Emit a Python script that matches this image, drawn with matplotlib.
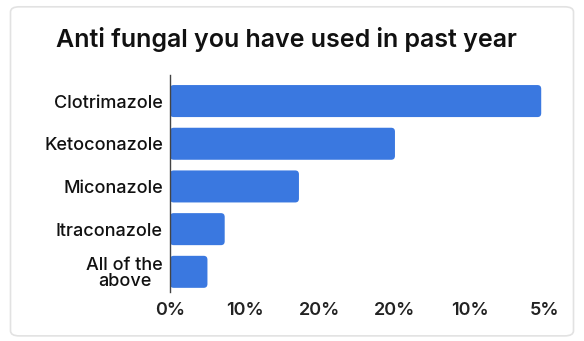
import matplotlib.pyplot as plt
from matplotlib.patches import FancyBboxPatch

plt.rcParams['font.family'] = ['Inter', 'DejaVu Sans']

categories = ['Clotrimazole', 'Ketoconazole', 'Miconazole', 'Itraconazole', 'All of the\nabove']
values = [49.5, 30, 17.2, 7.3, 5]
tick_pos = [0, 10, 20, 30, 40, 50]
tick_labels = ['0%', '10%', '20%', '20%', '10%', '5%']

bar_color = '#3A78E0'

fig = plt.figure(figsize=(5.84, 3.41), dpi=100)
fig.patch.set_facecolor('white')

# card frame, kept behind the axes
card = FancyBboxPatch((0.018, 0.015), 0.964, 0.965, boxstyle='round,pad=0,rounding_size=0.015',
                      transform=fig.transFigure, facecolor='white', edgecolor='#e2e2e2',
                      linewidth=1.2, zorder=-1)
fig.patches.append(card)

fig.text(0.49, 0.885, 'Anti fungal you have used in past year', ha='center', va='center',
         fontsize=18, fontweight='semibold', color='#111111')

ax = fig.add_axes([0.291, 0.144, 0.655, 0.636])
ax.patch.set_alpha(0)
bars = ax.barh(range(len(categories)), values, height=0.75, color=bar_color)

ax.set_xlim(0, 51)
ax.set_ylim(4.47, -0.61)

# swap plain bars for rounded ones
for b in bars:
    x, y = b.get_x(), b.get_y()
    w, h = b.get_width(), b.get_height()
    rp = FancyBboxPatch((x, y), w, h, boxstyle='round,pad=0,rounding_size=0.5',
                        mutation_aspect=0.18, facecolor=bar_color, edgecolor='none')
    b.set_visible(False)
    ax.add_patch(rp)

ax.set_yticks(range(len(categories)))
ax.set_yticklabels(categories, fontsize=13, fontweight='medium', color='#111111',
                   multialignment='center', linespacing=0.95)
ax.set_xticks(tick_pos)
ax.set_xticklabels(tick_labels, fontsize=13, fontweight='semibold', color='#222222')
ax.tick_params(length=0, pad=5)
ax.tick_params(axis='x', pad=7)

for s in ['top', 'right', 'bottom']:
    ax.spines[s].set_visible(False)
ax.spines['left'].set_color('#444444')
ax.spines['left'].set_linewidth(1)

plt.savefig('out.png', dpi=100)
